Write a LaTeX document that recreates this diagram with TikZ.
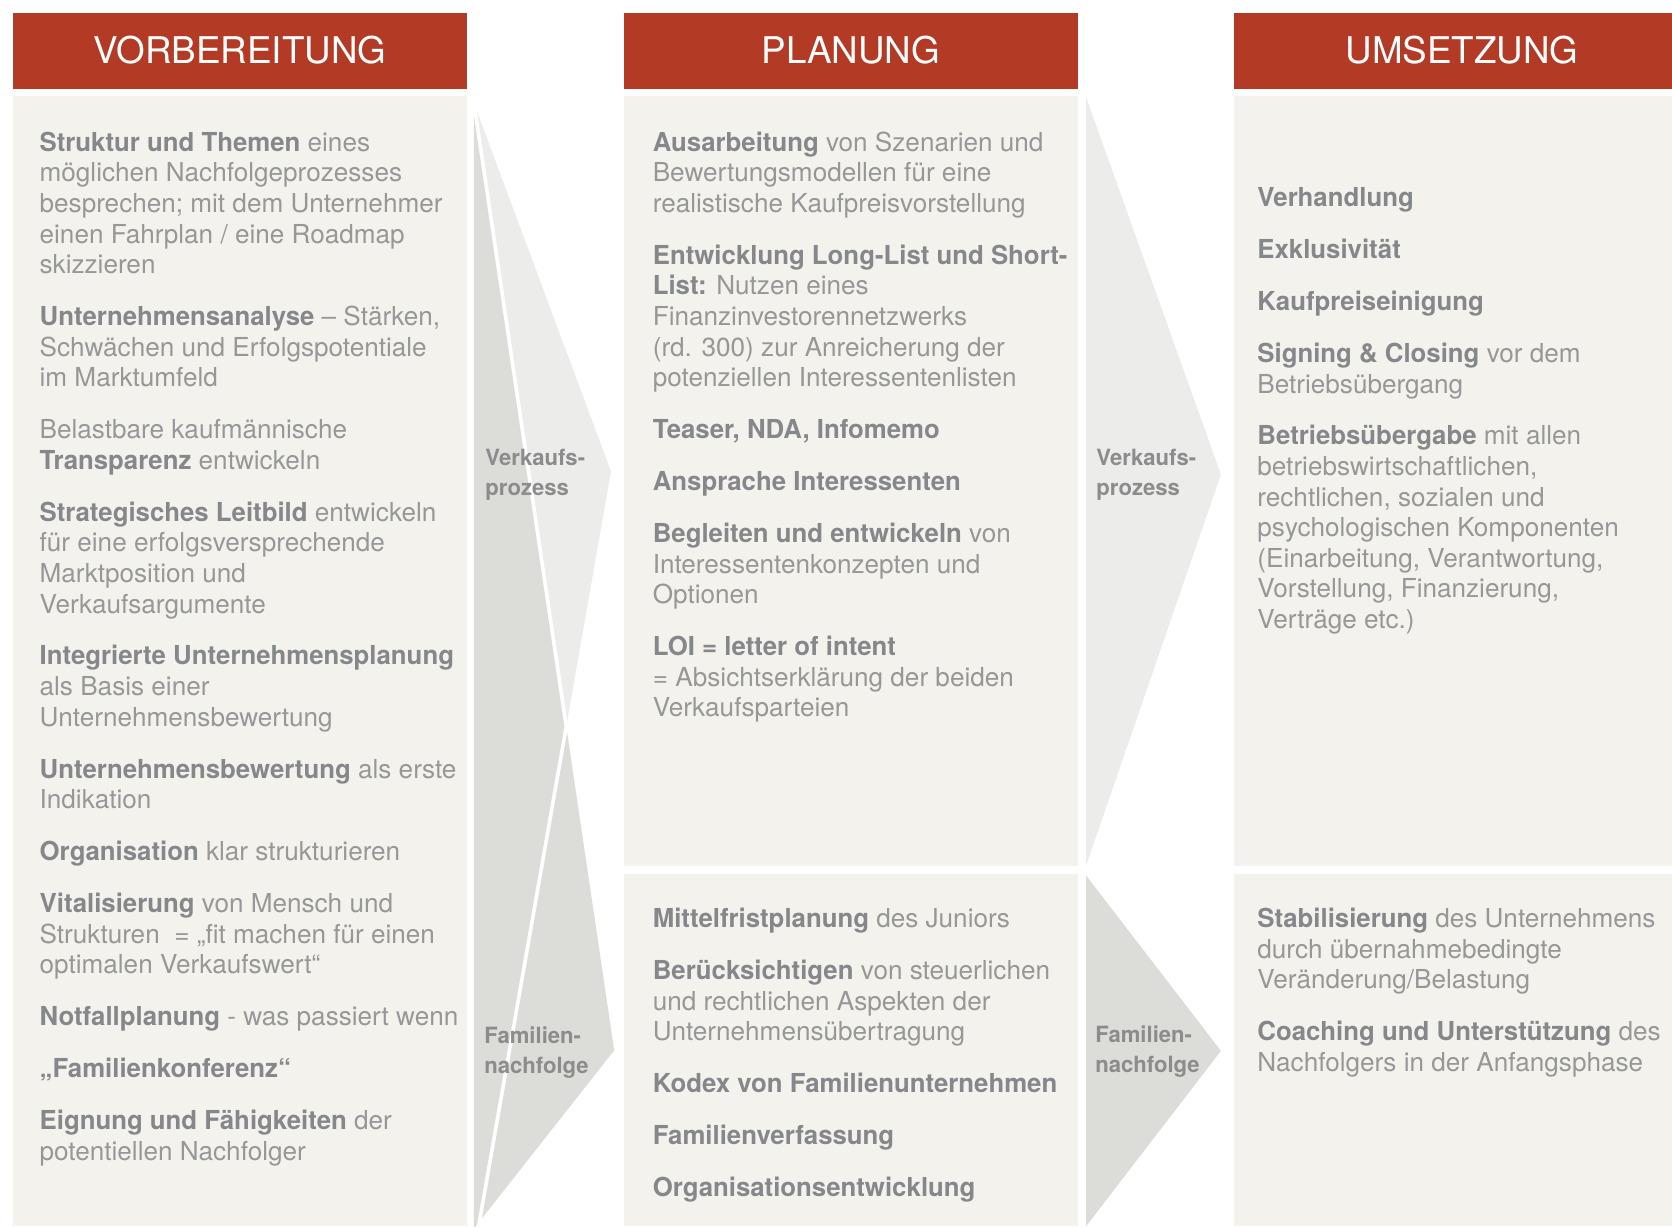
\documentclass[tikz,border=0pt]{standalone}
\usepackage{fontspec}
\setmainfont{TeX Gyre Heros}[BoldFeatures={FakeStretch=0.987}]

\definecolor{hdrred}{HTML}{B33A25}
\definecolor{panelbg}{HTML}{F3F2EC}
\definecolor{txtgray}{HTML}{979797}
\definecolor{boldgray}{HTML}{86878A}
\definecolor{labelgray}{HTML}{8C8C8C}
\definecolor{arrowlight}{HTML}{ECECEA}
\definecolor{arrowdark}{HTML}{DCDCD8}

\newcommand\kw[1]{\textcolor{boldgray}{\textbf{#1}}}
\newcommand\pgap{\\[20pt]}

\tikzset{
  hdrbox/.style={fill=hdrred, draw=none, inner sep=0pt, minimum height=71pt},
  hdrtext/.style={anchor=base, inner sep=0pt, text=white,
                  font=\fontsize{34.5}{40}\selectfont},
  panel/.style={fill=panelbg, draw=none},
  body/.style={anchor=north west, inner sep=0pt, align=left, text=txtgray,
               font=\fontsize{24.5}{28.7}\selectfont},
  flowlabel/.style={anchor=north west, inner sep=0pt, align=left, text=labelgray,
               font=\fontsize{21}{28.7}\selectfont\bfseries},
  salesarrow/.style={fill=arrowlight, draw=none},
  familyarrow/.style={fill=arrowdark, draw=none},
  seam/.style={draw=white, line width=3.4pt, line cap=butt}
}

\begin{document}
\begin{tikzpicture}[x=1pt,y=-1pt]
\useasboundingbox (0,0) rectangle (1568,1150);

% column headers
\node[hdrbox, minimum width=426pt] (hA) at (225,47.5) {};
\node[hdrbox, minimum width=426pt] (hB) at (798,47.5) {};
\node[hdrbox, minimum width=411pt] (hC) at (1362.5,47.5) {};
\node[hdrtext] (tA) at (225,59.5) {VORBEREITUNG};
\node[hdrtext] (tB) at (798,59.5) {PLANUNG};
\node[hdrtext] (tC) at (1371,59.5) {UMSETZUNG};

% column panels
\fill[panel] (12,90) rectangle (438,1150);
\fill[panel] (585,90) rectangle (1011,812);
\fill[panel] (585,820) rectangle (1011,1150);
\fill[panel] (1157,90) rectangle (1568,812);
\fill[panel] (1157,820) rectangle (1568,1150);

% crossing arrows between first and second column
\coordinate (aTop) at (444.5,96.8);
\coordinate (aSalesTip) at (573,442);
\coordinate (aSalesEnd) at (448.5,1152);
\coordinate (aFamTip) at (576,985);
\coordinate (aFamEnd) at (444.5,1152);
\coordinate (aCross) at (intersection of aTop--aFamTip and aSalesTip--aSalesEnd);
\fill[salesarrow] (aTop) -- (aSalesTip) -- (aSalesEnd) -- cycle;
\fill[familyarrow] (aTop) -- (aFamTip) -- (aFamEnd) -- cycle;
\draw[seam] (aTop) -- (aCross);
\draw[seam] (aCross) -- (aSalesEnd);

% arrows between second and third column
\fill[salesarrow] (1018.5,91) -- (1145,445) -- (1018.5,812) -- cycle;
\fill[familyarrow] (1018.5,821) -- (1145,985.5) -- (1018.5,1150) -- cycle;

% arrow labels
\node[flowlabel] (lA1) at (455,416) {\strut Verkaufs-\\prozess};
\node[flowlabel] (lA2) at (454,958) {\strut Familien-\\nachfolge};
\node[flowlabel] (lB1) at (1028,416) {\strut Verkaufs-\\prozess};
\node[flowlabel] (lB2) at (1027,957) {\strut Familien-\\nachfolge};

% first column
\node[body] (cA) at (37,121.5) {\strut
\kw{Struktur und Themen} eines\\
möglichen Nachfolgeprozesses\\
besprechen; mit dem Unternehmer\\
einen Fahrplan / eine Roadmap\\
skizzieren\pgap
\kw{Unternehmensanalyse} – Stärken,\\
Schwächen und Erfolgspotentiale\\
im Marktumfeld\pgap
Belastbare kaufmännische\\
\kw{Transparenz} entwickeln\pgap
\kw{Strategisches Leitbild} entwickeln\\
für eine erfolgsversprechende\\
Marktposition und\\
Verkaufsargumente\pgap
\kw{Integrierte Unternehmensplanung}\\
als Basis einer\\
Unternehmensbewertung\pgap
\kw{Unternehmensbewertung} als erste\\
Indikation\pgap
\kw{Organisation} klar strukturieren\pgap
\kw{Vitalisierung} von Mensch und\\
Strukturen\ \ = „fit machen für einen\\
optimalen Verkaufswert“\pgap
\kw{Notfallplanung} - was passiert wenn\pgap
\kw{„Familienkonferenz“}\pgap
\kw{Eignung und Fähigkeiten} der\\
potentiellen Nachfolger};

% second column, sales process
\node[body] (cB1) at (612,121.5) {\strut
\kw{Ausarbeitung} von Szenarien und\\
Bewertungsmodellen für eine\\
realistische Kaufpreisvorstellung\pgap
\kw{Entwicklung Long-List und Short-}\\
\kw{List:} Nutzen eines\\
Finanzinvestorennetzwerks\\
(rd. 300) zur Anreicherung der\\
potenziellen Interessentenlisten\pgap
\kw{Teaser, NDA, Infomemo}\pgap
\kw{Ansprache Interessenten}\pgap
\kw{Begleiten und entwickeln} von\\
Interessentenkonzepten und\\
Optionen\pgap
\kw{LOI = letter of intent}\\
= Absichtserklärung der beiden\\
Verkaufsparteien};

% second column, family succession
\node[body] (cB2) at (612,849.5) {\strut
\kw{Mittelfristplanung} des Juniors\pgap
\kw{Berücksichtigen} von steuerlichen\\
und rechtlichen Aspekten der\\
Unternehmensübertragung\pgap
\kw{Kodex von Familienunternehmen}\pgap
\kw{Familienverfassung}\pgap
\kw{Organisationsentwicklung}};

% third column, sales process
\node[body] (cC1) at (1179,173.5) {\strut
\kw{Verhandlung}\pgap
\kw{Exklusivität}\pgap
\kw{Kaufpreiseinigung}\pgap
\kw{Signing \& Closing} vor dem\\
Betriebsübergang\pgap
\kw{Betriebsübergabe} mit allen\\
betriebswirtschaftlichen,\\
rechtlichen, sozialen und\\
psychologischen Komponenten\\
(Einarbeitung, Verantwortung,\\
Vorstellung, Finanzierung,\\
Verträge etc.)};

% third column, family succession
\node[body] (cC2) at (1179,849.5) {\strut
\kw{Stabilisierung} des Unternehmens\\
durch übernahmebedingte\\
Veränderung/Belastung\pgap
\kw{Coaching und Unterstützung} des\\
Nachfolgers in der Anfangsphase};
\end{tikzpicture}
\end{document}
